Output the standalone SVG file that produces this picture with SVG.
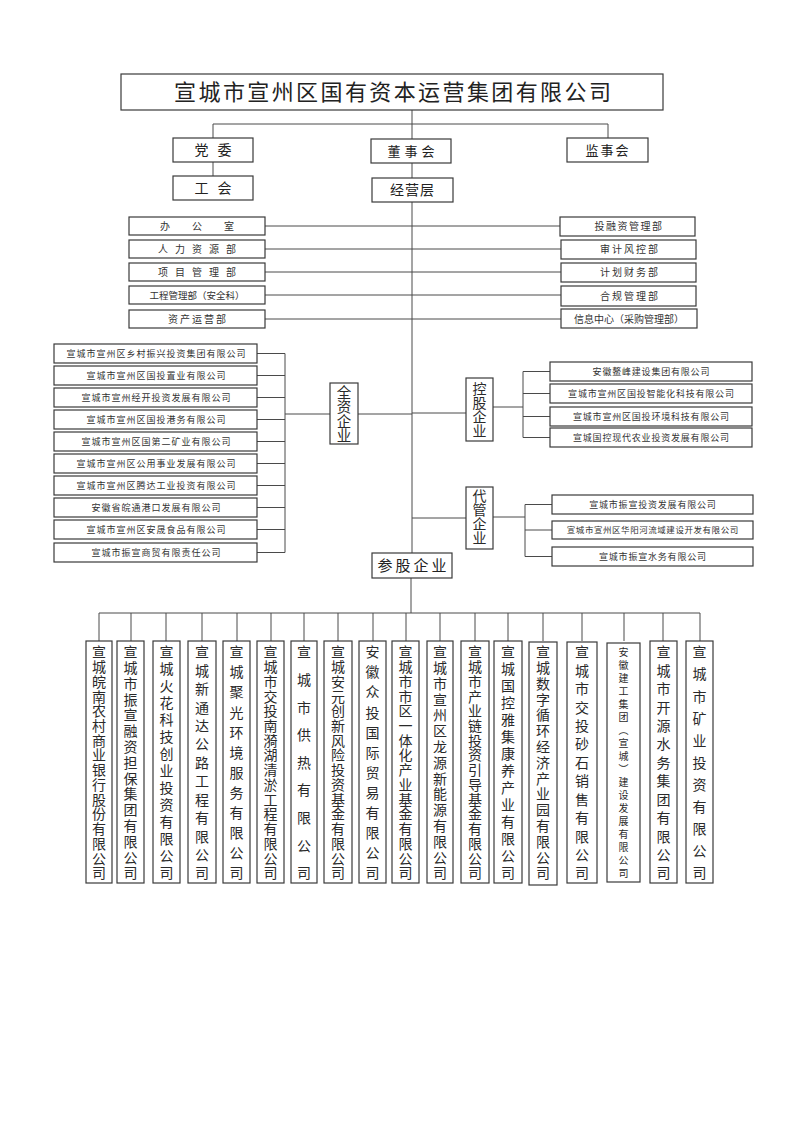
<svg xmlns="http://www.w3.org/2000/svg" width="800" height="1131" viewBox="0 0 800 1131">
<style>
.b{fill:#fff;stroke:#3a3a3a;stroke-width:1.2}
.c line{stroke:#4a4a4a;stroke-width:1}
text{font-family:"Noto Sans CJK SC","Noto Sans",sans-serif;fill:#222}
.m{text-anchor:middle}
.s{font-size:9px;letter-spacing:1px;text-anchor:middle;fill:#333}
.r{font-size:9px;letter-spacing:0.8px;text-anchor:middle;fill:#333}
.d{font-size:10px;text-anchor:middle;fill:#333}
.v{writing-mode:vertical-rl;font-size:14px;fill:#2a2a2a}
</style>
<rect width="800" height="1131" fill="#fff"/>

<g id="connectors" class="c">
<line x1="412" y1="110" x2="412" y2="139"/>
<line x1="213" y1="124" x2="608" y2="124"/>
<line x1="213" y1="124" x2="213" y2="138"/>
<line x1="608" y1="124" x2="608" y2="138"/>
<line x1="213" y1="162" x2="213" y2="176"/>
<line x1="412" y1="163" x2="412" y2="178"/>
<line x1="412" y1="202" x2="412" y2="553"/>
<line x1="265" y1="226" x2="412" y2="226"/>
<line x1="265" y1="249" x2="412" y2="249"/>
<line x1="265" y1="272" x2="412" y2="272"/>
<line x1="265" y1="295" x2="412" y2="295"/>
<line x1="265" y1="319" x2="412" y2="319"/>
<line x1="412" y1="226" x2="560" y2="226"/>
<line x1="412" y1="249" x2="561" y2="249"/>
<line x1="412" y1="272" x2="561" y2="272"/>
<line x1="412" y1="295" x2="561" y2="295"/>
<line x1="412" y1="319" x2="561" y2="319"/>
<line x1="285" y1="353.5" x2="285" y2="552.5"/>
<line x1="257" y1="353.5" x2="285" y2="353.5"/>
<line x1="257" y1="375.5" x2="285" y2="375.5"/>
<line x1="257" y1="397.5" x2="285" y2="397.5"/>
<line x1="257" y1="419.5" x2="285" y2="419.5"/>
<line x1="257" y1="441.5" x2="285" y2="441.5"/>
<line x1="257" y1="463.5" x2="285" y2="463.5"/>
<line x1="257" y1="485.5" x2="285" y2="485.5"/>
<line x1="257" y1="507.5" x2="285" y2="507.5"/>
<line x1="257" y1="529.5" x2="285" y2="529.5"/>
<line x1="257" y1="552.5" x2="285" y2="552.5"/>
<line x1="285" y1="414" x2="330" y2="414"/>
<line x1="358" y1="414" x2="412" y2="414"/>
<line x1="412" y1="413" x2="466" y2="413"/>
<line x1="493" y1="407" x2="523" y2="407"/>
<line x1="523" y1="371.5" x2="523" y2="437.5"/>
<line x1="523" y1="371.5" x2="550" y2="371.5"/>
<line x1="523" y1="393.5" x2="550" y2="393.5"/>
<line x1="523" y1="416.5" x2="550" y2="416.5"/>
<line x1="523" y1="437.5" x2="550" y2="437.5"/>
<line x1="412" y1="518" x2="466" y2="518"/>
<line x1="493" y1="517" x2="525" y2="517"/>
<line x1="525" y1="504.5" x2="525" y2="556.5"/>
<line x1="525" y1="504.5" x2="552" y2="504.5"/>
<line x1="525" y1="530" x2="552" y2="530"/>
<line x1="525" y1="556.5" x2="552" y2="556.5"/>
<line x1="411" y1="578" x2="411" y2="613"/>
<line x1="99" y1="613" x2="700" y2="613"/>
<line x1="99" y1="613" x2="99" y2="641"/>
<line x1="131" y1="613" x2="131" y2="641"/>
<line x1="166" y1="613" x2="166" y2="641"/>
<line x1="202" y1="613" x2="202" y2="641"/>
<line x1="237" y1="613" x2="237" y2="641"/>
<line x1="271" y1="613" x2="271" y2="641"/>
<line x1="304" y1="613" x2="304" y2="641"/>
<line x1="338" y1="613" x2="338" y2="641"/>
<line x1="373" y1="613" x2="373" y2="641"/>
<line x1="406" y1="613" x2="406" y2="641"/>
<line x1="440" y1="613" x2="440" y2="641"/>
<line x1="475" y1="613" x2="475" y2="641"/>
<line x1="508" y1="613" x2="508" y2="641"/>
<line x1="543" y1="613" x2="543" y2="641"/>
<line x1="582" y1="613" x2="582" y2="641"/>
<line x1="624" y1="613" x2="624" y2="641"/>
<line x1="663" y1="613" x2="663" y2="641"/>
<line x1="700" y1="613" x2="700" y2="641"/>
</g>

<g id="title"><rect class="b" x="121" y="74" width="542" height="36"/><text x="393.7" y="100" class="m" style="font-size:22px;letter-spacing:2.4px">宣城市宣州区国有资本运营集团有限公司</text></g>
<g id="dangwei"><rect class="b" x="173" y="138" width="80" height="24"/><text x="217.5" y="155" class="m" style="font-size:14px;letter-spacing:9px">党委</text></g>
<g id="dongshihui"><rect class="b" x="371" y="139" width="80" height="24"/><text x="413" y="156" class="m" style="font-size:13px;letter-spacing:4px">董事会</text></g>
<g id="jianshihui"><rect class="b" x="567" y="138" width="81" height="24"/><text x="608" y="155" class="m" style="font-size:13px;letter-spacing:2px">监事会</text></g>
<g id="gonghui"><rect class="b" x="173" y="176" width="80" height="24"/><text x="217.5" y="193" class="m" style="font-size:14px;letter-spacing:9px">工会</text></g>
<g id="jingyingceng"><rect class="b" x="372" y="178" width="81" height="24"/><text x="412.5" y="195" class="m" style="font-size:14px;letter-spacing:1px">经营层</text></g>

<g id="dept-l1"><rect class="b" x="129" y="217" width="136" height="18"/><text x="208" y="230" class="d" style="letter-spacing:22px">办公室</text></g>
<g id="dept-l2"><rect class="b" x="129" y="240" width="136" height="18"/><text x="200.5" y="253" class="d" style="letter-spacing:7px">人力资源部</text></g>
<g id="dept-l3"><rect class="b" x="129" y="263" width="136" height="18"/><text x="200.5" y="276" class="d" style="letter-spacing:7px">项目管理部</text></g>
<g id="dept-l4"><rect class="b" x="129" y="286" width="136" height="18"/><text x="197" y="299" class="d" style="font-size:9.5px">工程管理部（安全科）</text></g>
<g id="dept-l5"><rect class="b" x="129" y="310" width="136" height="18"/><text x="198" y="323" class="d" style="letter-spacing:2px">资产运营部</text></g>

<g id="dept-r1"><rect class="b" x="560" y="217" width="135" height="19"/><text x="629" y="230" class="d" style="letter-spacing:1.5px">投融资管理部</text></g>
<g id="dept-r2"><rect class="b" x="561" y="240" width="135" height="19"/><text x="630" y="253" class="d" style="letter-spacing:2px">审计风控部</text></g>
<g id="dept-r3"><rect class="b" x="561" y="263" width="135" height="19"/><text x="630" y="276" class="d" style="letter-spacing:2px">计划财务部</text></g>
<g id="dept-r4"><rect class="b" x="561" y="286" width="135" height="20"/><text x="630" y="300" class="d" style="letter-spacing:2px">合规管理部</text></g>
<g id="dept-r5"><rect class="b" x="561" y="309" width="136" height="19"/><text x="629" y="323" class="d">信息中心（采购管理部）</text></g>

<g id="quanzi"><rect class="b" x="330" y="383" width="28" height="61"/><text class="v" x="344" y="385" style="font-size:14.5px">全资企业</text></g>
<g id="konggu"><rect class="b" x="466" y="378" width="27" height="63"/><text class="v" x="479.5" y="382" style="font-size:14px">控股企业</text></g>
<g id="daiguan"><rect class="b" x="466" y="487" width="27" height="62"/><text class="v" x="479.5" y="489" style="font-size:14px">代管企业</text></g>
<g id="canggu"><rect class="b" x="372" y="553" width="80" height="25"/><text x="413.5" y="571" class="m" style="font-size:15px;letter-spacing:3px">参股企业</text></g>

<g id="qz1"><rect class="b" x="54" y="344" width="203" height="19"/><text x="156.5" y="357" class="s">宣城市宣州区乡村振兴投资集团有限公司</text></g>
<g id="qz2"><rect class="b" x="54" y="366" width="203" height="19"/><text x="156.5" y="379" class="s">宣城市宣州区国投置业有限公司</text></g>
<g id="qz3"><rect class="b" x="54" y="388" width="203" height="19"/><text x="156.5" y="401" class="s">宣城市宣州经开投资发展有限公司</text></g>
<g id="qz4"><rect class="b" x="54" y="410" width="203" height="19"/><text x="156.5" y="423" class="s">宣城市宣州区国投港务有限公司</text></g>
<g id="qz5"><rect class="b" x="54" y="432" width="203" height="19"/><text x="156.5" y="445" class="s">宣城市宣州区国第二矿业有限公司</text></g>
<g id="qz6"><rect class="b" x="54" y="454" width="203" height="19"/><text x="156.5" y="467" class="s">宣城市宣州区公用事业发展有限公司</text></g>
<g id="qz7"><rect class="b" x="54" y="476" width="203" height="19"/><text x="156.5" y="489" class="s">宣城市宣州区腾达工业投资有限公司</text></g>
<g id="qz8"><rect class="b" x="54" y="498" width="203" height="19"/><text x="156.5" y="511" class="s">安徽省皖通港口发展有限公司</text></g>
<g id="qz9"><rect class="b" x="54" y="520" width="203" height="19"/><text x="156.5" y="533" class="s">宣城市宣州区安晟食品有限公司</text></g>
<g id="qz10"><rect class="b" x="54" y="543" width="203" height="19"/><text x="156.5" y="556" class="s">宣城市振宣商贸有限责任公司</text></g>

<g id="kg1"><rect class="b" x="550" y="362" width="202" height="19"/><text x="651.4" y="375" class="r">安徽鳌峰建设集团有限公司</text></g>
<g id="kg2"><rect class="b" x="550" y="384" width="202" height="19"/><text x="651.4" y="397" class="r">宣城市宣州区国投智能化科技有限公司</text></g>
<g id="kg3"><rect class="b" x="550" y="407" width="202" height="19"/><text x="651.4" y="420" class="r">宣城市宣州区国投环境科技有限公司</text></g>
<g id="kg4"><rect class="b" x="550" y="428" width="202" height="19"/><text x="651.4" y="441" class="r">宣城国控现代农业投资发展有限公司</text></g>

<g id="dg1"><rect class="b" x="552" y="495" width="201" height="19"/><text x="652.9" y="508" class="r">宣城市振宣投资发展有限公司</text></g>
<g id="dg2"><rect class="b" x="552" y="521" width="201" height="18"/><text x="652.8" y="533" class="r" style="font-size:8.5px;letter-spacing:0.55px">宣城市宣州区华阳河流域建设开发有限公司</text></g>
<g id="dg3"><rect class="b" x="552" y="547" width="201" height="19"/><text x="652.9" y="560" class="r">宣城市振宣水务有限公司</text></g>

<g id="cg1"><rect class="b" x="86" y="641" width="26" height="242"/><text class="v" x="99" y="645" style="letter-spacing:0.73px">宣城皖南农村商业银行股份有限公司</text></g>
<g id="cg2"><rect class="b" x="117" y="641" width="27" height="242"/><text class="v" x="130.5" y="645" style="letter-spacing:1.79px">宣城市振宣融资担保集团有限公司</text></g>
<g id="cg3"><rect class="b" x="153" y="641" width="27" height="242"/><text class="v" x="166.5" y="645" style="letter-spacing:3px">宣城火花科技创业投资有限公司</text></g>
<g id="cg4"><rect class="b" x="188" y="641" width="28" height="242"/><text class="v" x="202" y="645" style="letter-spacing:4.42px">宣城新通达公路工程有限公司</text></g>
<g id="cg5"><rect class="b" x="223" y="641" width="27" height="242"/><text class="v" x="236.5" y="645" style="letter-spacing:6.09px">宣城聚光环境服务有限公司</text></g>
<g id="cg6"><rect class="b" x="257" y="641" width="27" height="242"/><text class="v" x="270.5" y="645" style="letter-spacing:0.73px">宣城市交投南漪湖清淤工程有限公司</text></g>
<g id="cg7"><rect class="b" x="291" y="641" width="26" height="242"/><text class="v" x="304" y="645" style="letter-spacing:13.63px">宣城市供热有限公司</text></g>
<g id="cg8"><rect class="b" x="324" y="641" width="28" height="242"/><text class="v" x="338" y="645" style="letter-spacing:0.73px">宣城安元创新风险投资基金有限公司</text></g>
<g id="cg9"><rect class="b" x="359" y="641" width="27" height="242"/><text class="v" x="372.5" y="645" style="letter-spacing:6.09px">安徽众投国际贸易有限公司</text></g>
<g id="cg10"><rect class="b" x="392" y="641" width="27" height="242"/><text class="v" x="405.5" y="645" style="letter-spacing:0.73px">宣城市市区一体化产业基金有限公司</text></g>
<g id="cg11"><rect class="b" x="427" y="641" width="26" height="242"/><text class="v" x="440" y="645" style="letter-spacing:1.79px">宣城市宣州区龙源新能源有限公司</text></g>
<g id="cg12"><rect class="b" x="461" y="641" width="28" height="242"/><text class="v" x="475" y="645" style="letter-spacing:0.73px">宣城市产业链投资引导基金有限公司</text></g>
<g id="cg13"><rect class="b" x="494" y="641" width="28" height="242"/><text class="v" x="508" y="645" style="letter-spacing:3px">宣城国控雅集康养产业有限公司</text></g>
<g id="cg14"><rect class="b" x="529" y="642" width="28" height="243"/><text class="v" x="543" y="645" style="letter-spacing:1.79px">宣城数字循环经济产业园有限公司</text></g>
<g id="cg15"><rect class="b" x="567" y="642" width="30" height="241"/><text class="v" x="582" y="645" style="letter-spacing:4.42px">宣城市交投砂石销售有限公司</text></g>
<g id="cg16"><rect class="b" x="607" y="643" width="33" height="239"/><text class="v" x="623.5" y="647" style="font-size:10px;letter-spacing:3px">安徽建工集团（宣城）建设发展有限公司</text></g>
<g id="cg17"><rect class="b" x="650" y="641" width="27" height="242"/><text class="v" x="663.5" y="645" style="letter-spacing:4.42px">宣城市开源水务集团有限公司</text></g>
<g id="cg18"><rect class="b" x="686" y="641" width="27" height="242"/><text class="v" x="699.5" y="645" style="letter-spacing:8.1px">宣城市矿业投资有限公司</text></g>
</svg>
